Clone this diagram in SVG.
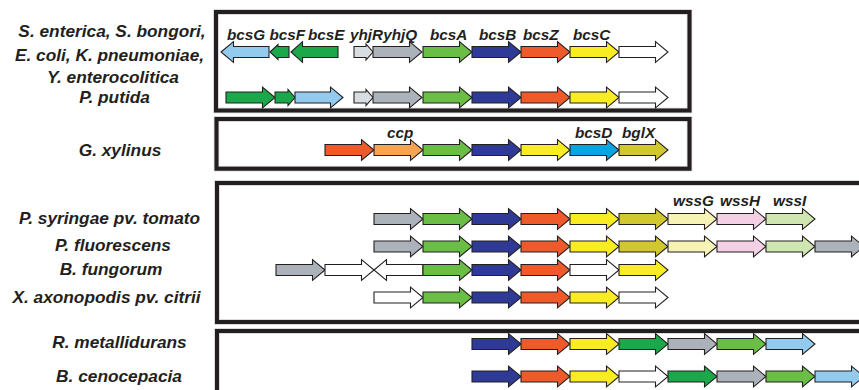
<svg xmlns="http://www.w3.org/2000/svg" xmlns:xlink="http://www.w3.org/1999/xlink" width="859" height="390" viewBox="0 0 859 390">
<style>
.sp{font-family:"Liberation Sans",Arial,sans-serif;font-weight:bold;font-style:italic;font-size:17.3px;fill:#231f20;text-anchor:middle}
.gl{font-family:"Liberation Sans",Arial,sans-serif;font-weight:bold;font-style:italic;font-size:15.3px;fill:#231f20}
.box{fill:none;stroke:#231f20;stroke-width:4}
.halo{fill:none;stroke:#cfcfcf;stroke-width:5.5}
.ar{stroke:#231f20;stroke-width:1.1;stroke-linejoin:miter}
.lb{fill:#92cbed}.dg{fill:#1ba84a}.mg{fill:#6abd45}.bl{fill:#2e3a96}.rd{fill:#ee5a2a}
.ye{fill:#f9ec23}.wh{fill:#ffffff}.gr{fill:#abb2ba}.lg{fill:#d8dde2}.or{fill:#f5a551}
.cy{fill:#0aa5df}.ol{fill:#d1c72f}.py{fill:#f7f3b5}.pk{fill:#f3d0e3}.pg{fill:#d0e6b0}
</style>
<defs>
<path id="a" d="M0,-5.5H36.5V-10.3L49,0L36.5,10.3V5.5H0Z"/>
<path id="aL" d="M0,0L12.5,-10.3V-5.5H49V5.5H12.5V10.3Z"/>
</defs>
<rect width="859" height="390" fill="#ffffff"/>
<g id="boxes">
<rect class="halo" x="216" y="12" width="473.5" height="98.5"/>
<rect class="box" x="216" y="12" width="473.5" height="98.5"/>
<rect class="halo" x="216.5" y="119" width="473" height="49.7"/>
<rect class="box" x="216.5" y="119" width="473" height="49.7"/>
<rect class="halo" x="217" y="183" width="700" height="139"/>
<rect class="box" x="217" y="183" width="700" height="139"/>
<rect class="halo" x="217" y="331" width="700" height="100"/>
<rect class="box" x="217" y="331" width="700" height="100"/>
</g>
<g id="species">
<text class="sp" x="112" y="36.7">S. enterica, S. bongori,</text>
<text class="sp" x="109.5" y="61">E. coli, K. pneumoniae,</text>
<text class="sp" x="113" y="82.7">Y. enterocolitica</text>
<text class="sp" x="114.5" y="103.3">P. putida</text>
<text class="sp" x="120" y="155.7">G. xylinus</text>
<text class="sp" x="109.5" y="224">P. syringae pv. tomato</text>
<text class="sp" x="113" y="250.7">P. fluorescens</text>
<text class="sp" x="111" y="275">B. fungorum</text>
<text class="sp" x="106.5" y="303.3">X. axonopodis pv. citrii</text>
<text class="sp" x="119.5" y="348.3">R. metallidurans</text>
<text class="sp" x="119" y="381.7">B. cenocepacia</text>
</g>
<g id="gene-labels">
<text class="gl" x="227" y="40">bcsG</text>
<text class="gl" x="269.5" y="40">bcsF</text>
<text class="gl" x="308" y="40">bcsE</text>
<text class="gl" x="350" y="40">yhjRyhjQ</text>
<text class="gl" x="430" y="40">bcsA</text>
<text class="gl" x="479" y="40">bcsB</text>
<text class="gl" x="523" y="40">bcsZ</text>
<text class="gl" x="573" y="40">bcsC</text>
<text class="gl" x="387" y="137.5">ccp</text>
<text class="gl" x="575" y="137.5">bcsD</text>
<text class="gl" x="622" y="137.5">bglX</text>
<text class="gl" x="673" y="206">wssG</text>
<text class="gl" x="720" y="206">wssH</text>
<text class="gl" x="773" y="206">wssI</text>
</g>
<g id="row-enterica" class="ar">
<path class="lb" d="M221,52L233.5,41.7V46.5H269V57.5H233.5V62.3Z"/>
<path class="dg" d="M270,52L278,44.5V46.5H289V57.5H278V59.5Z"/>
<path class="dg" d="M291,52L302.5,41.7V46.5H338V57.5H302.5V62.3Z"/>
<path class="lg" d="M354,46.5H366V44L373,52L366,60V57.5H354Z"/>
<use href="#a" x="373" y="52" class="gr"/>
<use href="#a" x="423" y="52" class="mg"/>
<use href="#a" x="472" y="52" class="bl"/>
<use href="#a" x="521" y="52" class="rd"/>
<use href="#a" x="570" y="52" class="ye"/>
<use href="#a" x="619" y="52" class="wh"/>
</g>
<g id="row-putida" class="ar">
<path class="dg" d="M226,92H262.5V87.2L275,97.5L262.5,107.8V103H226Z"/>
<path class="dg" d="M275,92H288V89.5L295,97.5L288,105.5V103H275Z"/>
<path class="lb" d="M295,92H330.5V87.2L343,97.5L330.5,107.8V103H295Z"/>
<path class="lg" d="M354,92H366V89.5L373,97.5L366,105.5V103H354Z"/>
<use href="#a" x="373" y="97.5" class="gr"/>
<use href="#a" x="423" y="97.5" class="mg"/>
<use href="#a" x="472" y="97.5" class="bl"/>
<use href="#a" x="521" y="97.5" class="rd"/>
<use href="#a" x="570" y="97.5" class="ye"/>
<use href="#a" x="619" y="97.5" class="wh"/>
</g>
<g id="row-xylinus" class="ar">
<use href="#a" x="325" y="150" class="rd"/>
<use href="#a" x="374" y="150" class="or"/>
<use href="#a" x="423" y="150" class="mg"/>
<use href="#a" x="472" y="150" class="bl"/>
<use href="#a" x="521" y="150" class="ye"/>
<use href="#a" x="570" y="150" class="cy"/>
<use href="#a" x="619" y="150" class="ol"/>
</g>
<g id="row-syringae" class="ar">
<use href="#a" x="374" y="219" class="gr"/>
<use href="#a" x="423" y="219" class="mg"/>
<use href="#a" x="472" y="219" class="bl"/>
<use href="#a" x="521" y="219" class="rd"/>
<use href="#a" x="570" y="219" class="ye"/>
<use href="#a" x="619" y="219" class="ol"/>
<use href="#a" x="668" y="219" class="py"/>
<use href="#a" x="717" y="219" class="pk"/>
<use href="#a" x="766" y="219" class="pg"/>
</g>
<g id="row-fluorescens" class="ar">
<use href="#a" x="374" y="246.5" class="gr"/>
<use href="#a" x="423" y="246.5" class="mg"/>
<use href="#a" x="472" y="246.5" class="bl"/>
<use href="#a" x="521" y="246.5" class="rd"/>
<use href="#a" x="570" y="246.5" class="ye"/>
<use href="#a" x="619" y="246.5" class="ol"/>
<use href="#a" x="668" y="246.5" class="py"/>
<use href="#a" x="717" y="246.5" class="pk"/>
<use href="#a" x="766" y="246.5" class="pg"/>
<use href="#a" x="815" y="246.5" class="gr"/>
</g>
<g id="row-fungorum" class="ar">
<use href="#a" x="276" y="270" class="gr"/>
<use href="#a" x="325" y="270" class="wh"/>
<use href="#aL" x="374" y="270" class="wh"/>
<use href="#a" x="423" y="270" class="mg"/>
<use href="#a" x="472" y="270" class="bl"/>
<use href="#a" x="521" y="270" class="rd"/>
<use href="#a" x="570" y="270" class="wh"/>
<use href="#a" x="619" y="270" class="ye"/>
</g>
<g id="row-axonopodis" class="ar">
<use href="#a" x="374" y="297.5" class="wh"/>
<use href="#a" x="423" y="297.5" class="mg"/>
<use href="#a" x="472" y="297.5" class="bl"/>
<use href="#a" x="521" y="297.5" class="rd"/>
<use href="#a" x="570" y="297.5" class="ye"/>
<use href="#a" x="619" y="297.5" class="wh"/>
</g>
<g id="row-metallidurans" class="ar">
<use href="#a" x="472" y="344" class="bl"/>
<use href="#a" x="521" y="344" class="rd"/>
<use href="#a" x="570" y="344" class="ye"/>
<use href="#a" x="619" y="344" class="dg"/>
<use href="#a" x="668" y="344" class="gr"/>
<use href="#a" x="717" y="344" class="mg"/>
<use href="#a" x="766" y="344" class="lb"/>
</g>
<g id="row-cenocepacia" class="ar">
<use href="#a" x="472" y="376.5" class="bl"/>
<use href="#a" x="521" y="376.5" class="rd"/>
<use href="#a" x="570" y="376.5" class="ye"/>
<use href="#a" x="619" y="376.5" class="wh"/>
<use href="#a" x="668" y="376.5" class="dg"/>
<use href="#a" x="717" y="376.5" class="gr"/>
<use href="#a" x="766" y="376.5" class="mg"/>
<use href="#a" x="815" y="376.5" class="lb"/>
</g>
</svg>
